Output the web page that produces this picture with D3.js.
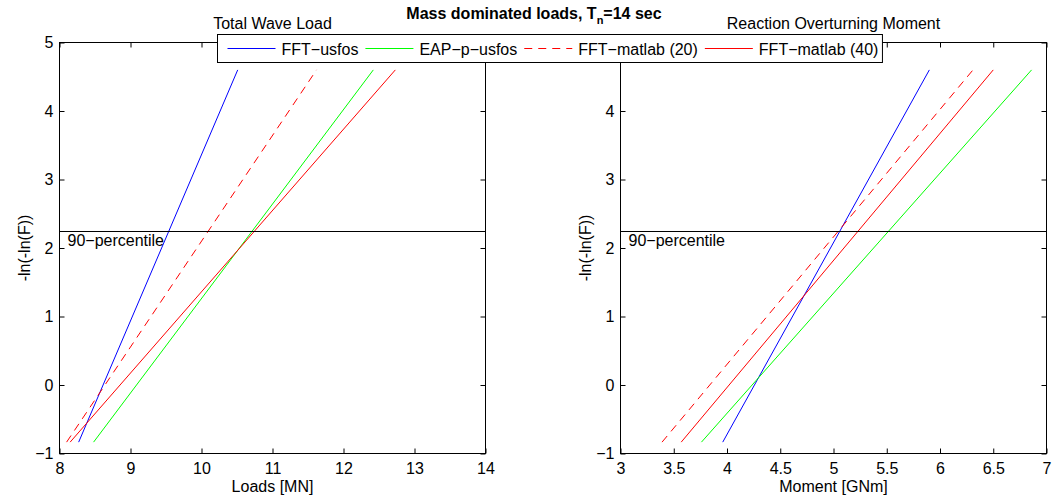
<!DOCTYPE html>
<html><head><meta charset="utf-8">
<script src="https://cdn.jsdelivr.net/npm/d3@7"></script>
<style>
body{margin:0;background:#fff}
text{font-family:"Liberation Sans",Arial,Helvetica,sans-serif;fill:#000}
</style>
</head><body><svg id="c" width="1054" height="501"></svg>
<script>
// ---- data ----
const seriesNames  = ["FFT−usfos", "EAP−p−usfos", "FFT−matlab (20)", "FFT−matlab (40)"];
const seriesColors = ["#0000ff", "#00ff00", "#ff0000", "#ff0000"];
const seriesDash   = [null, null, "8,6", null];
// Gumbel reduced variate -ln(-ln(F)) at F = 0.1 and F = 0.99
const reducedVariate = [-0.834, 4.6];
// Total wave load [MN] at the two reduced-variate ends
const loadFFTusfos    = [8.27, 10.51];
const loadEAPpusfos   = [8.48, 12.42];
const loadFFTmatlab20 = [8.10, 11.62];
const loadFFTmatlab40 = [8.15, 12.73];
// Reaction overturning moment [GNm]
const momFFTusfos    = [3.96, 5.90];
const momEAPpusfos   = [3.76, 6.86];
const momFFTmatlab20 = [3.39, 6.31];
const momFFTmatlab40 = [3.57, 6.50];
const percentile90 = 2.25;
const yTicks = [-1, 0, 1, 2, 3, 4, 5];
const xTicksLoads = [8, 9, 10, 11, 12, 13, 14];
const xTicksMoment = [3, 3.5, 4, 4.5, 5, 5.5, 6, 6.5, 7];

const svg = d3.select("#c");
const fs = 16;
const fmt = d => (d < 0 ? "−" : "") + Math.abs(d);

function panel(opts) {
  const {x0, x1, y0, y1, domain, xticks, series, title, xlabel, hideTopYLabel} = opts;
  const x = d3.scaleLinear().domain(domain).range([x0, x1]);
  const y = d3.scaleLinear().domain([-1, 5]).range([y1, y0]);
  const g = svg.append("g");
  const line = d3.line().x(d => x(d[0])).y(d => y(d[1]));
  series.forEach((vals, i) => {
    g.append("path")
      .attr("d", line(vals.map((v, k) => [v, reducedVariate[k]])))
      .attr("fill", "none")
      .attr("stroke", seriesColors[i])
      .attr("stroke-width", 1)
      .attr("stroke-dasharray", seriesDash[i]);
  });
  // 90 percentile
  g.append("line").attr("x1", x0).attr("x2", x1)
    .attr("y1", Math.round(y(percentile90)) + 0.5).attr("y2", Math.round(y(percentile90)) + 0.5)
    .attr("stroke", "#000").attr("stroke-width", 1);
  g.append("text").attr("x", x0 + 8).attr("y", y(percentile90) + 15)
    .attr("font-size", fs).text("90−percentile");
  // axes
  const ax = (a) => a.tickSizeInner(-5).tickSizeOuter(0);
  g.append("g").attr("transform", `translate(0,${y1})`)
    .call(ax(d3.axisBottom(x)).tickValues(xticks).tickFormat(fmt).tickPadding(9));
  g.append("g").attr("transform", `translate(0,${y0})`)
    .call(ax(d3.axisTop(x)).tickValues(xticks).tickFormat(""));
  g.append("g").attr("transform", `translate(${x0},0)`)
    .call(ax(d3.axisLeft(y)).tickValues(yTicks)
      .tickFormat(d => (hideTopYLabel && d === 5) ? "" : fmt(d)).tickPadding(6));
  g.append("g").attr("transform", `translate(${x1},0)`)
    .call(ax(d3.axisRight(y)).tickValues(yTicks).tickFormat(""));
  g.selectAll(".domain").remove();
  g.selectAll(".tick line").attr("stroke", "#000");
  g.selectAll(".tick text").attr("font-size", fs).attr("font-family", null).attr("fill", "#000");
  g.append("rect").attr("x", x0).attr("y", y0).attr("width", x1 - x0).attr("height", y1 - y0)
    .attr("fill", "none").attr("stroke", "#000").attr("stroke-width", 1);
  // labels
  g.append("text").attr("x", (x0 + x1) / 2).attr("y", 29).attr("text-anchor", "middle")
    .attr("font-size", fs).text(title);
  g.append("text").attr("x", (x0 + x1) / 2).attr("y", 492).attr("text-anchor", "middle")
    .attr("font-size", fs).text(xlabel);
  g.append("text").attr("transform", `translate(${x0 - 30},${(y0 + y1) / 2}) rotate(-90)`)
    .attr("text-anchor", "middle").attr("font-size", fs).text("-ln(-ln(F))");
}

panel({x0: 59.5, x1: 485.5, y0: 42.5, y1: 453.5, domain: [8, 14], xticks: xTicksLoads,
  series: [loadFFTusfos, loadEAPpusfos, loadFFTmatlab20, loadFFTmatlab40],
  title: "Total Wave Load", xlabel: "Loads [MN]", hideTopYLabel: false});
panel({x0: 620.5, x1: 1046.5, y0: 42.5, y1: 453.5, domain: [3, 7], xticks: xTicksMoment,
  series: [momFFTusfos, momEAPpusfos, momFFTmatlab20, momFFTmatlab40],
  title: "Reaction Overturning Moment", xlabel: "Moment [GNm]", hideTopYLabel: true});

// main title
const t = svg.append("text").attr("x", 534).attr("y", 19).attr("text-anchor", "middle")
  .attr("font-size", fs).attr("font-weight", "bold");
t.append("tspan").text("Mass dominated loads, T");
t.append("tspan").attr("font-size", 11).attr("dy", 5).text("n");
t.append("tspan").attr("dy", -5).text("=14 sec");

// legend
const lg = svg.append("g");
const lx = 217.5, ly = 34.5, lh = 28;
const box = lg.append("rect").attr("x", lx).attr("y", ly).attr("height", lh)
  .attr("fill", "#fff").attr("stroke", "#000").attr("stroke-width", 1);
let cx = lx + 10;
seriesNames.forEach((n, i) => {
  lg.append("line").attr("x1", cx).attr("x2", cx + 48).attr("y1", ly + lh / 2).attr("y2", ly + lh / 2)
    .attr("stroke", seriesColors[i]).attr("stroke-width", 1).attr("stroke-dasharray", seriesDash[i]);
  cx += 54;
  const tx = lg.append("text").attr("x", cx).attr("y", ly + lh / 2 + 6).attr("font-size", fs).text(n);
  cx += tx.node().getComputedTextLength() + 7;
});
box.attr("width", cx - lx - 3);
</script>
</body></html>
